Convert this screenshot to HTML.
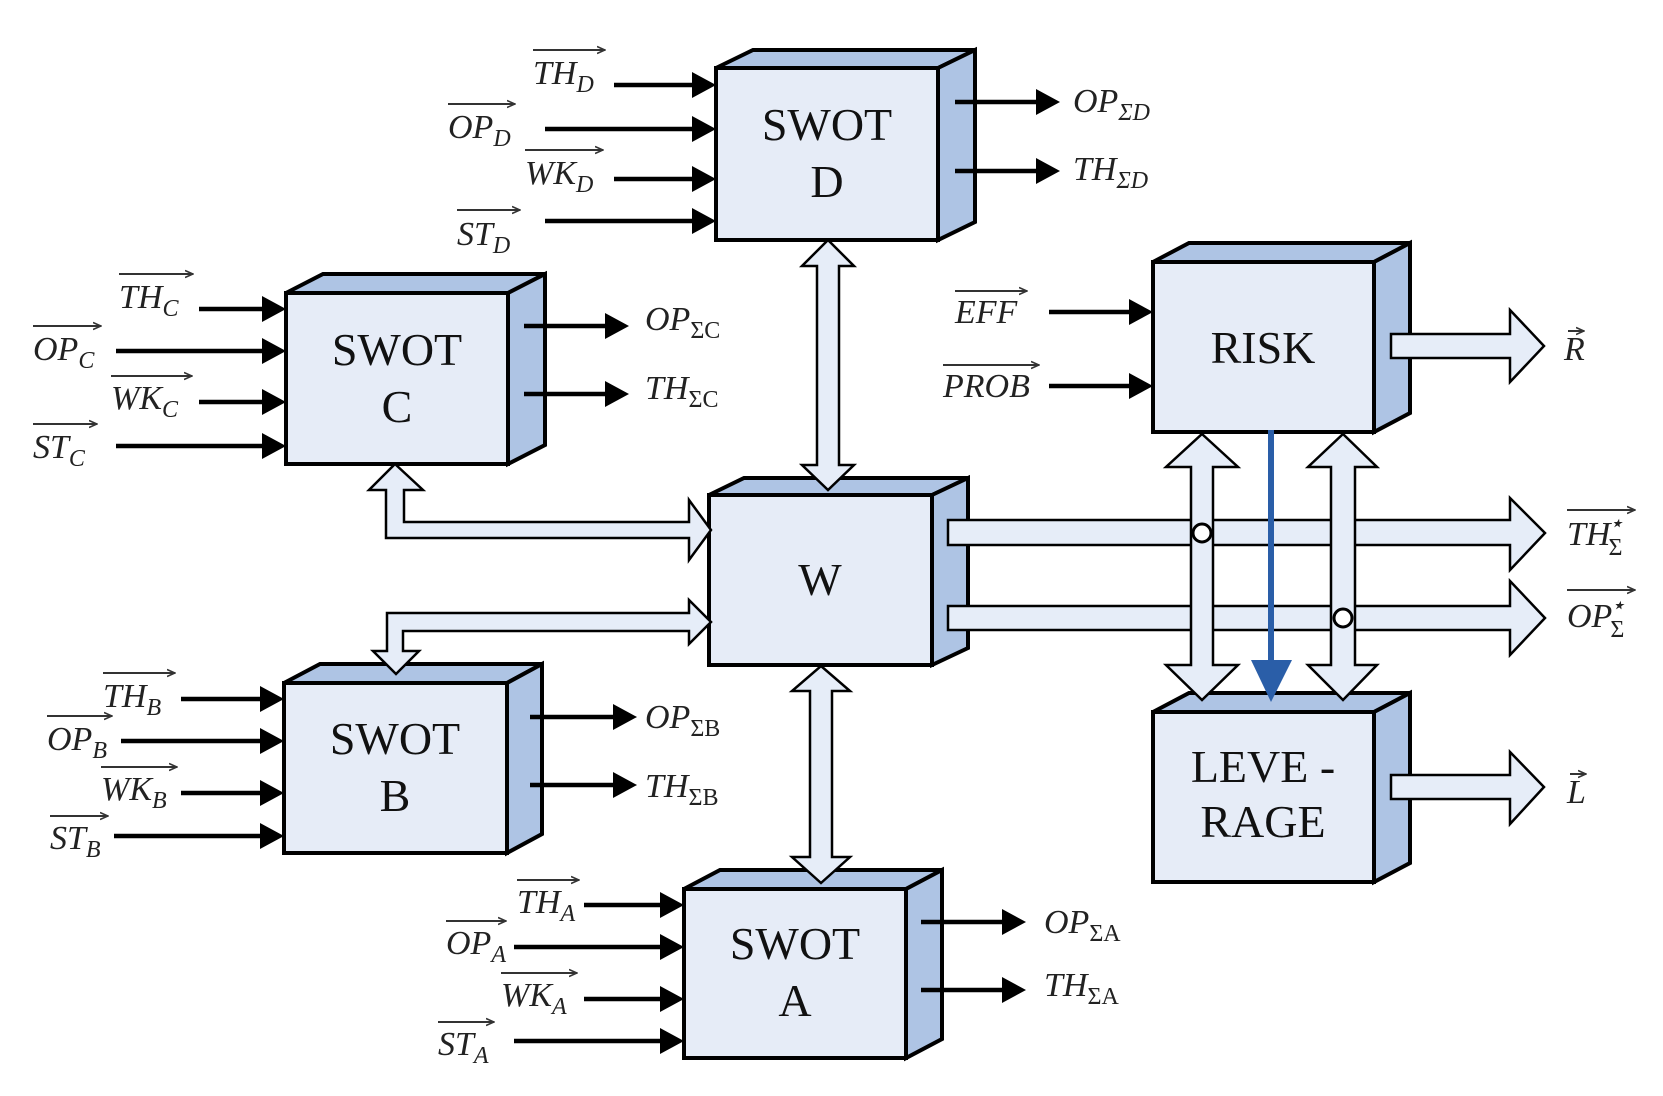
<!DOCTYPE html>
<html><head><meta charset="utf-8"><style>
html,body{margin:0;padding:0;background:#fff;}
svg{display:block;}
.bx{font-family:"Liberation Serif",serif;font-size:46px;fill:#111;text-anchor:middle;}
.lb{font-family:"Liberation Serif",serif;font-style:italic;font-size:34px;fill:#222;}
.sb{font-size:24px;}
</style></head><body>
<svg width="1663" height="1096" viewBox="0 0 1663 1096" xmlns="http://www.w3.org/2000/svg">
<defs>
<marker id="sa" markerWidth="9" markerHeight="9" refX="8" refY="4.5" orient="auto" markerUnits="userSpaceOnUse"><path d="M0,1 L8,4.5 L0,8" fill="none" stroke="#333" stroke-width="1.6"/></marker>
</defs>

<!-- boxes -->
<g stroke="#000" stroke-width="4" stroke-linejoin="miter">
<g><polygon fill="#aec4e4" points="716,68 753,50 975,50 938,68"/><polygon fill="#aec4e4" points="938,68 975,50 975,222 938,240"/><rect fill="#e6ecf7" x="716" y="68" width="222" height="172"/></g>
<g><polygon fill="#aec4e4" points="286,293 323,274 545,274 508,293"/><polygon fill="#aec4e4" points="508,293 545,274 545,445 508,464"/><rect fill="#e6ecf7" x="286" y="293" width="222" height="171"/></g>
<g><polygon fill="#aec4e4" points="709,495 744,478 968,478 932,495"/><polygon fill="#aec4e4" points="932,495 968,478 968,648 932,665"/><rect fill="#e6ecf7" x="709" y="495" width="223" height="170"/></g>
<g><polygon fill="#aec4e4" points="284,683 320,664 542,664 507,683"/><polygon fill="#aec4e4" points="507,683 542,664 542,834 507,853"/><rect fill="#e6ecf7" x="284" y="683" width="223" height="170"/></g>
<g><polygon fill="#aec4e4" points="684,889 720,870 942,870 906,889"/><polygon fill="#aec4e4" points="906,889 942,870 942,1039 906,1058"/><rect fill="#e6ecf7" x="684" y="889" width="222" height="169"/></g>
<g><polygon fill="#aec4e4" points="1153,262 1189,243 1410,243 1374,262"/><polygon fill="#aec4e4" points="1374,262 1410,243 1410,413 1374,432"/><rect fill="#e6ecf7" x="1153" y="262" width="221" height="170"/></g>
<g><polygon fill="#aec4e4" points="1153,712 1189,693 1410,693 1374,712"/><polygon fill="#aec4e4" points="1374,712 1410,693 1410,863 1374,882"/><rect fill="#e6ecf7" x="1153" y="712" width="221" height="170"/></g>
</g>

<g stroke="#000" stroke-width="4.5" fill="none">
<line x1="614" y1="85" x2="693" y2="85"/><line x1="545" y1="129" x2="693" y2="129"/>
<line x1="614" y1="179" x2="693" y2="179"/><line x1="545" y1="221" x2="693" y2="221"/>
<line x1="199" y1="309" x2="263" y2="309"/><line x1="116" y1="351" x2="263" y2="351"/>
<line x1="199" y1="402" x2="263" y2="402"/><line x1="116" y1="446" x2="263" y2="446"/>
<line x1="181" y1="699" x2="261" y2="699"/><line x1="121" y1="741" x2="261" y2="741"/>
<line x1="181" y1="793" x2="261" y2="793"/><line x1="114" y1="836" x2="261" y2="836"/>
<line x1="584" y1="905" x2="661" y2="905"/><line x1="514" y1="947" x2="661" y2="947"/>
<line x1="584" y1="999" x2="661" y2="999"/><line x1="514" y1="1041" x2="661" y2="1041"/>
<line x1="1049" y1="312" x2="1130" y2="312"/><line x1="1049" y1="386" x2="1130" y2="386"/>
<line x1="955" y1="102" x2="1037" y2="102"/><line x1="955" y1="171" x2="1037" y2="171"/>
<line x1="524" y1="326" x2="606" y2="326"/><line x1="524" y1="394" x2="606" y2="394"/>
<line x1="530" y1="717" x2="614" y2="717"/><line x1="530" y1="785" x2="614" y2="785"/>
<line x1="921" y1="922" x2="1003" y2="922"/><line x1="921" y1="990" x2="1003" y2="990"/>
</g>
<g fill="#000">
<path d="M716,85 l-24,-13 v26z M716,129 l-24,-13 v26z M716,179 l-24,-13 v26z M716,221 l-24,-13 v26z"/>
<path d="M286,309 l-24,-13 v26z M286,351 l-24,-13 v26z M286,402 l-24,-13 v26z M286,446 l-24,-13 v26z"/>
<path d="M284,699 l-24,-13 v26z M284,741 l-24,-13 v26z M284,793 l-24,-13 v26z M284,836 l-24,-13 v26z"/>
<path d="M684,905 l-24,-13 v26z M684,947 l-24,-13 v26z M684,999 l-24,-13 v26z M684,1041 l-24,-13 v26z"/>
<path d="M1153,312 l-24,-13 v26z M1153,386 l-24,-13 v26z"/>
<path d="M1060,102 l-24,-13 v26z M1060,171 l-24,-13 v26z"/>
<path d="M629,326 l-24,-13 v26z M629,394 l-24,-13 v26z"/>
<path d="M637,717 l-24,-13 v26z M637,785 l-24,-13 v26z"/>
<path d="M1026,922 l-24,-13 v26z M1026,990 l-24,-13 v26z"/>
</g>

<!-- block arrows -->
<g fill="#e6edf8" stroke="#000" stroke-width="2.5" stroke-linejoin="miter">
<polygon points="395,464 423,490 404,490 404,522 689,522 689,500 711,530 689,560 689,538 386,538 386,490 369,490"/>
<polygon points="711,622 689,644 689,631 403,631 403,651 419,651 396,674 373,651 387,651 387,613 689,613 689,600"/>
<polygon points="948,520 1510,520 1510,498 1545,533 1510,570 1510,545 948,545"/>
<polygon points="948,606 1510,606 1510,581 1545,618 1510,655 1510,630 948,630"/>
<polygon points="1391,334 1510,334 1510,310 1544,346 1510,382 1510,358 1391,358"/>
<polygon points="1391,775 1510,775 1510,752 1544,787 1510,824 1510,799 1391,799"/>
<polygon points="828,240 854,266 839,266 839,465 854,465 828,490 802,465 817,465 817,266 802,266"/>
<polygon points="821,666 850,691 832,691 832,857 850,857 821,883 792,857 810,857 810,691 792,691"/>
<polygon points="1202,434 1238,467 1213,467 1213,665 1238,665 1202,700 1166,665 1191,665 1191,467 1166,467"/>
<polygon points="1343,434 1377,467 1355,467 1355,665 1377,665 1343,700 1308,665 1331,665 1331,467 1308,467"/>
</g>
<g fill="#fff" stroke="#000" stroke-width="3">
<circle cx="1202" cy="533" r="9"/><circle cx="1343" cy="618" r="9"/>
</g>
<line x1="1271" y1="430" x2="1271" y2="665" stroke="#2a5ea8" stroke-width="6"/>
<polygon points="1251,660 1292,660 1271,702" fill="#2a5ea8"/>

<text class="bx" x="827" y="140">SWOT</text><text class="bx" x="827" y="197">D</text>
<text class="bx" x="397" y="365">SWOT</text><text class="bx" x="397" y="422">C</text>
<text class="bx" x="820" y="595">W</text>
<text class="bx" x="395" y="754">SWOT</text><text class="bx" x="395" y="811">B</text>
<text class="bx" x="795" y="959">SWOT</text><text class="bx" x="795" y="1016">A</text>
<text class="bx" x="1263" y="363">RISK</text>
<text class="bx" x="1263" y="782">LEVE -</text><text class="bx" x="1263" y="837">RAGE</text>

<g class="lb">
<text x="533" y="84">TH<tspan class="sb" dy="8">D</tspan></text>
<text x="448" y="138">OP<tspan class="sb" dy="8">D</tspan></text>
<text x="525" y="184">WK<tspan class="sb" dy="8">D</tspan></text>
<text x="457" y="245">ST<tspan class="sb" dy="8">D</tspan></text>
<text x="119" y="308">TH<tspan class="sb" dy="8">C</tspan></text>
<text x="33" y="360">OP<tspan class="sb" dy="8">C</tspan></text>
<text x="111" y="409">WK<tspan class="sb" dy="8">C</tspan></text>
<text x="33" y="458">ST<tspan class="sb" dy="8">C</tspan></text>
<text x="103" y="707">TH<tspan class="sb" dy="8">B</tspan></text>
<text x="47" y="750">OP<tspan class="sb" dy="8">B</tspan></text>
<text x="101" y="800">WK<tspan class="sb" dy="8">B</tspan></text>
<text x="50" y="849">ST<tspan class="sb" dy="8">B</tspan></text>
<text x="517" y="913">TH<tspan class="sb" dy="8">A</tspan></text>
<text x="446" y="954">OP<tspan class="sb" dy="8">A</tspan></text>
<text x="501" y="1006">WK<tspan class="sb" dy="8">A</tspan></text>
<text x="438" y="1055">ST<tspan class="sb" dy="8">A</tspan></text>
<text x="955" y="323">EFF</text>
<text x="943" y="397">PROB</text>
<text x="1073" y="112">OP<tspan class="sb" dy="8">ΣD</tspan></text>
<text x="1073" y="180">TH<tspan class="sb" dy="8">ΣD</tspan></text>
<text x="645" y="330">OP<tspan class="sb" dy="8" font-style="normal">ΣC</tspan></text>
<text x="645" y="399">TH<tspan class="sb" dy="8" font-style="normal">ΣC</tspan></text>
<text x="645" y="728">OP<tspan class="sb" dy="8" font-style="normal">ΣB</tspan></text>
<text x="645" y="797">TH<tspan class="sb" dy="8" font-style="normal">ΣB</tspan></text>
<text x="1044" y="933">OP<tspan class="sb" dy="8" font-style="normal">ΣA</tspan></text>
<text x="1044" y="996">TH<tspan class="sb" dy="8" font-style="normal">ΣA</tspan></text>
<text x="1567" y="545">TH<tspan class="sb" dx="-2" dy="10" font-style="normal">Σ</tspan><tspan class="sb" dx="-14" dy="-24" font-size="18">⋆</tspan></text>
<text x="1567" y="627">OP<tspan class="sb" dx="-2" dy="10" font-style="normal">Σ</tspan><tspan class="sb" dx="-14" dy="-24" font-size="18">⋆</tspan></text>
<text x="1564" y="360">R</text>
<text x="1567" y="803">L</text>
</g>
<g stroke="#333" stroke-width="2" marker-end="url(#sa)">
<line x1="533" y1="50" x2="605" y2="50"/>
<line x1="448" y1="104" x2="515" y2="104"/>
<line x1="525" y1="150" x2="603" y2="150"/>
<line x1="457" y1="210" x2="520" y2="210"/>
<line x1="119" y1="274" x2="193" y2="274"/>
<line x1="33" y1="326" x2="101" y2="326"/>
<line x1="111" y1="376" x2="192" y2="376"/>
<line x1="33" y1="424" x2="97" y2="424"/>
<line x1="103" y1="673" x2="175" y2="673"/>
<line x1="47" y1="716" x2="112" y2="716"/>
<line x1="101" y1="767" x2="177" y2="767"/>
<line x1="50" y1="816" x2="108" y2="816"/>
<line x1="517" y1="880" x2="579" y2="880"/>
<line x1="446" y1="921" x2="506" y2="921"/>
<line x1="501" y1="973" x2="577" y2="973"/>
<line x1="438" y1="1022" x2="494" y2="1022"/>
<line x1="955" y1="291" x2="1027" y2="291"/>
<line x1="943" y1="365" x2="1039" y2="365"/>
<line x1="1567" y1="510" x2="1635" y2="510"/>
<line x1="1567" y1="590" x2="1635" y2="590"/>
<line x1="1568" y1="331" x2="1584" y2="331"/>
<line x1="1570" y1="774" x2="1586" y2="774"/>
</g>
</svg>
</body></html>
